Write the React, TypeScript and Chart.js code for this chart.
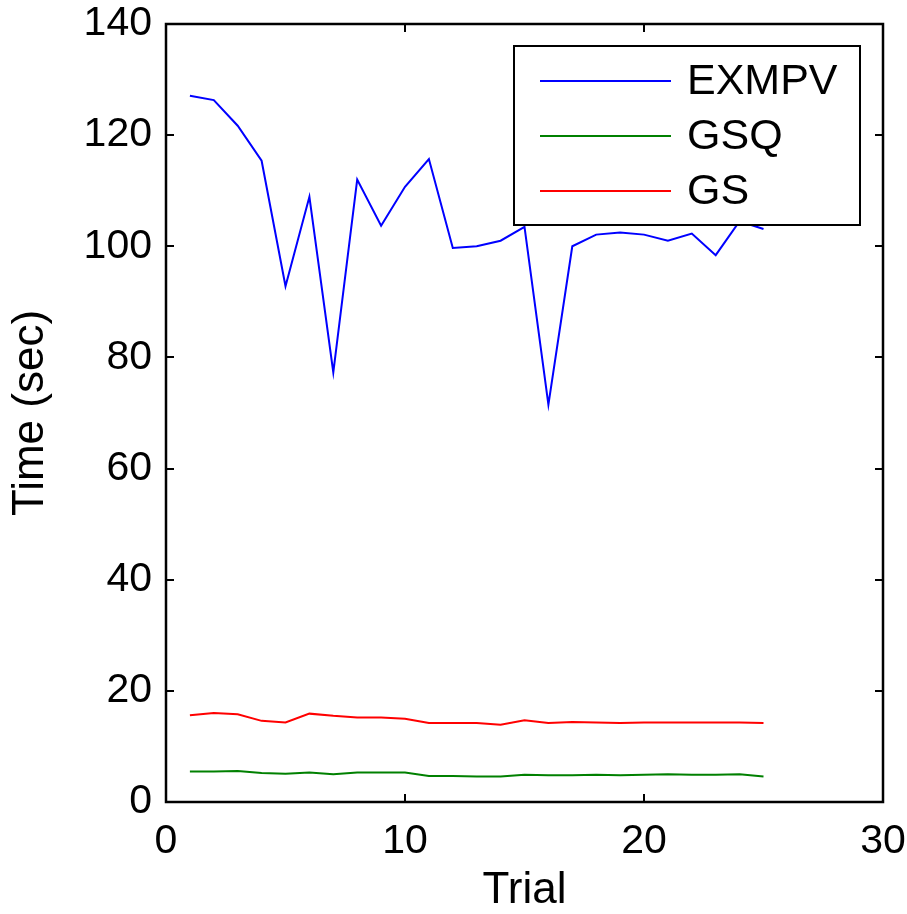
import React, { useEffect, useRef } from "react";
import { Chart, registerables } from "chart.js";

Chart.register(...registerables);

const trials = [1, 2, 3, 4, 5, 6, 7, 8, 9, 10, 11, 12, 13, 14, 15, 16, 17, 18, 19, 20, 21, 22, 23, 24, 25];
const exmpv = [127.1, 126.3, 121.7, 115.4, 92.8, 108.9, 77.3, 112.0, 103.7, 110.7, 115.7, 99.7, 100.0, 101.0, 103.5, 71.5, 100.0, 102.1, 102.5, 102.1, 101.0, 102.3, 98.4, 104.5, 103.1];
const gsq = [5.5, 5.5, 5.6, 5.2, 5.1, 5.3, 5.0, 5.3, 5.3, 5.3, 4.7, 4.7, 4.6, 4.6, 4.9, 4.8, 4.8, 4.9, 4.8, 4.9, 5.0, 4.9, 4.9, 5.0, 4.6];
const gs = [15.6, 16.0, 15.8, 14.6, 14.3, 15.9, 15.5, 15.2, 15.2, 15.0, 14.2, 14.2, 14.2, 13.9, 14.7, 14.2, 14.4, 14.3, 14.2, 14.3, 14.3, 14.3, 14.3, 14.3, 14.2];

const seriesNames = ["EXMPV", "GSQ", "GS"];
const seriesColors = ["#0000ff", "#008000", "#ff0000"];
const xTicks = [0, 10, 20, 30];
const yTicks = [0, 20, 40, 60, 80, 100, 120, 140];
const xTitle = "Trial";
const yTitle = "Time (sec)";

const FONT = "'Liberation Sans', Arial, Helvetica, sans-serif";

const framePlugin = {
  id: "frameAndLegend",
  afterDatasetsDraw(chart: any) {
    const { ctx, chartArea, scales } = chart;
    const { left, right, top, bottom } = chartArea;
    ctx.save();
    ctx.strokeStyle = "#000";
    ctx.lineWidth = 2;
    const tl = 8;
    ctx.beginPath();
    xTicks.forEach((v) => {
      const px = Math.round(scales.x.getPixelForValue(v));
      ctx.moveTo(px, bottom);
      ctx.lineTo(px, bottom - tl);
      ctx.moveTo(px, top);
      ctx.lineTo(px, top + tl);
    });
    yTicks.forEach((v) => {
      const py = Math.round(scales.y.getPixelForValue(v));
      ctx.moveTo(left, py);
      ctx.lineTo(left + tl, py);
      ctx.moveTo(right, py);
      ctx.lineTo(right - tl, py);
    });
    ctx.stroke();
    ctx.lineWidth = 2.5;
    ctx.strokeRect(left, top, right - left, bottom - top);

    const bw = 346;
    const bh = 179;
    const bx = right - 23 - bw;
    const by = top + 22;
    ctx.fillStyle = "#fff";
    ctx.fillRect(bx, by, bw, bh);
    ctx.lineWidth = 2;
    ctx.strokeRect(bx, by, bw, bh);
    ctx.font = `43px ${FONT}`;
    ctx.textBaseline = "middle";
    ctx.textAlign = "left";
    chart.data.datasets.forEach((ds: any, i: number) => {
      const ry = by + 35 + i * 55;
      ctx.strokeStyle = ds.borderColor;
      ctx.lineWidth = 2;
      ctx.beginPath();
      ctx.moveTo(bx + 26, ry);
      ctx.lineTo(bx + 157, ry);
      ctx.stroke();
      ctx.fillStyle = "#000";
      ctx.fillText(ds.label, bx + 173, ry + 1);
    });
    ctx.restore();
  },
};

export default function App() {
  const ref = useRef<HTMLCanvasElement | null>(null);
  useEffect(() => {
    document.body.style.margin = "0";
    const canvas = ref.current;
    if (!canvas) return;
    const seriesData = [exmpv, gsq, gs];
    const chart = new Chart(canvas, {
      type: "line",
      data: {
        datasets: seriesData.map((vals, i) => ({
          label: seriesNames[i],
          data: trials.map((t, j) => ({ x: t, y: vals[j] })),
          borderColor: seriesColors[i],
          backgroundColor: seriesColors[i],
          borderWidth: 2,
          pointRadius: 0,
          tension: 0,
          fill: false,
        })),
      },
      options: {
        responsive: false,
        animation: false,
        devicePixelRatio: 1,
        layout: { padding: { left: 0, top: 24, right: 24, bottom: 0 } },
        plugins: { legend: { display: false }, tooltip: { enabled: false } },
        scales: {
          x: {
            type: "linear",
            min: 0,
            max: 30,
            afterBuildTicks: (s: any) => {
              s.ticks = xTicks.map((v) => ({ value: v }));
            },
            afterFit: (s: any) => {
              s.height = 112;
              s.paddingLeft = 0;
              s.paddingRight = 0;
              s.paddingTop = 0;
              s.paddingBottom = 0;
            },
            grid: { display: false, drawTicks: false },
            border: { display: false },
            ticks: { color: "#000", font: { family: FONT, size: 41 }, padding: 15, maxRotation: 0 },
            title: { display: true, text: xTitle, color: "#000", font: { family: FONT, size: 44 }, padding: { top: 0, bottom: -3 } },
          },
          y: {
            type: "linear",
            min: 0,
            max: 140,
            afterBuildTicks: (s: any) => {
              s.ticks = yTicks.map((v) => ({ value: v }));
            },
            afterFit: (s: any) => {
              s.width = 166;
              s.paddingLeft = 0;
              s.paddingRight = 0;
              s.paddingTop = 0;
              s.paddingBottom = 0;
            },
            grid: { display: false, drawTicks: false },
            border: { display: false },
            ticks: { color: "#000", font: { family: FONT, size: 41 }, padding: 14 },
            title: { display: true, text: yTitle, color: "#000", font: { family: FONT, size: 44 }, padding: { top: 4, bottom: 0 } },
          },
        },
      },
      plugins: [framePlugin],
    });
    return () => chart.destroy();
  }, []);
  return (
    <div style={{ width: 907, height: 914, background: "#fff" }}>
      <canvas ref={ref} width={907} height={914} style={{ display: "block" }} />
    </div>
  );
}
